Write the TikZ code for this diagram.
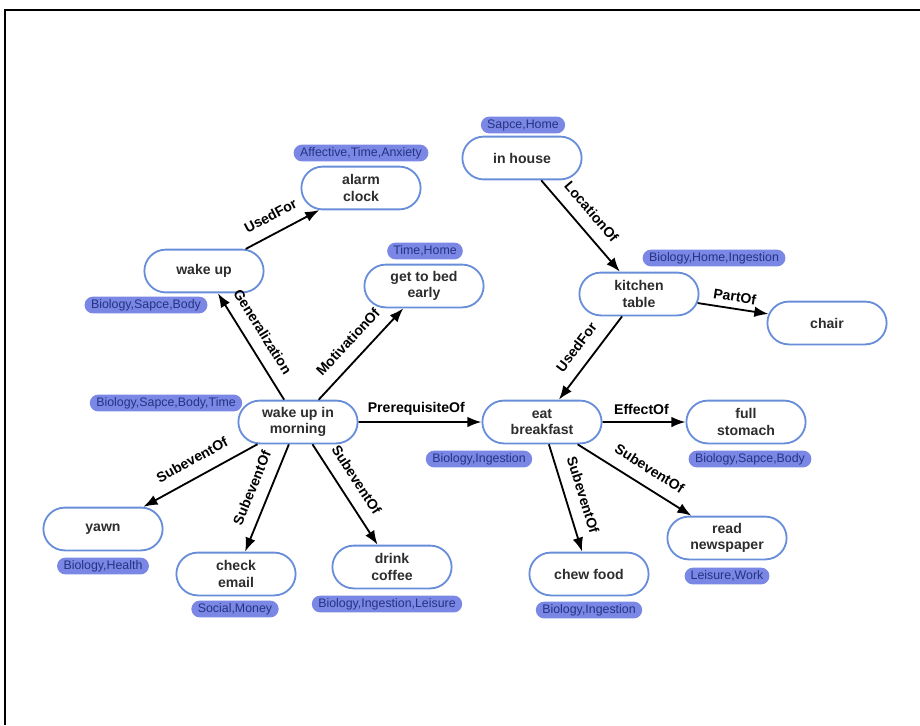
\documentclass[tikz,border=0pt]{standalone}
\usepackage{fontspec}
\setmainfont{Liberation Sans}
\usetikzlibrary{arrows.meta,shapes.misc,positioning}
\definecolor{conceptblue}{RGB}{104,142,218}
\definecolor{tagfill}{RGB}{122,135,228}
\definecolor{tagtext}{RGB}{38,50,130}
\definecolor{nodetext}{RGB}{45,45,45}

\begin{document}
\begin{tikzpicture}[x=0.025cm,y=-0.025cm,
		concept/.style={rounded rectangle, draw=conceptblue, line width=1.3pt, fill=white,
			minimum width=3.05cm, minimum height=1.07cm, inner sep=1pt, align=center,
			text=nodetext, font=\bfseries\fontsize{10}{11.5}\selectfont},
		tag/.style={rounded rectangle, fill=tagfill, minimum height=0.42cm, inner xsep=3pt,
			inner ysep=0pt, text=tagtext, font=\fontsize{8.8}{10}\selectfont},
		rel/.style={-{Latex[length=10pt,width=7.5pt]}, line width=1.3pt},
		lbl/.style={sloped, above=1pt, font=\bfseries\fontsize{10}{12}\selectfont},
		far/.style={above=5pt}]
	\useasboundingbox (0,0) rectangle (920,725);
	\draw[line width=0.8pt] (5,725) -- (5,10) -- (920,10);

	% concepts
	\node[concept] (alarm) at (361,188) {alarm\\clock};
	\node[concept] (wakeup) at (204,271) {wake up};
	\node[concept] (bed) at (424,286) {get to bed\\early};
	\node[concept] (house) at (522,158) {in house};
	\node[concept] (kitchen) at (639,294) {kitchen\\table};
	\node[concept] (chair) at (827,323) {chair};
	\node[concept] (morning) at (298,422) {wake up in\\morning};
	\node[concept] (breakfast) at (542,422) {eat\\breakfast};
	\node[concept] (stomach) at (746,422) {full\\stomach};
	\node[concept] (yawn) at (103,529) {yawn};
	\node[concept] (email) at (236,574) {check\\email};
	\node[concept] (coffee) at (392,567) {drink\\coffee};
	\node[concept] (chew) at (589,574) {chew food};
	\node[concept] (paper) at (727,538) {read\\newspaper};

	% categories
	\node[tag] (talarm) at (361,153) {Affective,Time,Anxiety};
	\node[tag] (twakeup) at (146,305) {Biology,Sapce,Body};
	\node[tag] (tbed) at (425,251) {Time,Home};
	\node[tag] (thouse) at (523,125) {Sapce,Home};
	\node[tag] (tkitchen) at (714,258) {Biology,Home,Ingestion};
	\node[tag] (tmorning) at (166,403) {Biology,Sapce,Body,Time};
	\node[tag] (tbreakfast) at (479,459) {Biology,Ingestion};
	\node[tag] (tstomach) at (750,459) {Biology,Sapce,Body};
	\node[tag] (tyawn) at (103,566) {Biology,Health};
	\node[tag] (temail) at (235,609) {Social,Money};
	\node[tag] (tcoffee) at (387,604) {Biology,Ingestion,Leisure};
	\node[tag] (tchew) at (589,610) {Biology,Ingestion};
	\node[tag] (tpaper) at (727,576) {Leisure,Work};

	% relations
	\draw[rel] (wakeup) -- (alarm) node[lbl, far, pos=0.45] {UsedFor};
	\draw[rel] (morning) -- (wakeup) node[lbl, far, pos=0.55] {Generalization};
	\draw[rel] (morning) -- (bed) node[lbl, far, pos=0.5] {MotivationOf};
	\draw[rel] (house) -- (kitchen) node[lbl, far, pos=0.47] {LocationOf};
	\draw[rel] (kitchen) -- (chair) node[lbl, pos=0.5] {PartOf};
	\draw[rel] (kitchen) -- (breakfast) node[lbl, far, pos=0.5] {UsedFor};
	\draw[rel] (morning) -- (breakfast) node[lbl, pos=0.47] {PrerequisiteOf};
	\draw[rel] (breakfast) -- (stomach) node[lbl, pos=0.47] {EffectOf};
	\draw[rel] (morning) -- (yawn) node[lbl, far, pos=0.5] {SubeventOf};
	\draw[rel] (morning) -- (email) node[lbl, far, pos=0.47] {SubeventOf};
	\draw[rel] (morning) -- (coffee) node[lbl, far, pos=0.45] {SubeventOf};
	\draw[rel] (breakfast) -- (chew) node[lbl, far, pos=0.52] {SubeventOf};
	\draw[rel] (breakfast) -- (paper) node[lbl, far, pos=0.55] {SubeventOf};
\end{tikzpicture}
\end{document}
